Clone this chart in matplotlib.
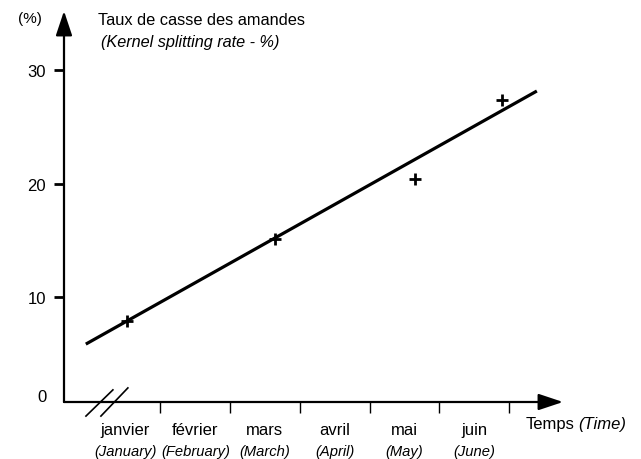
import matplotlib
matplotlib.use("Agg")
import matplotlib.pyplot as plt
from matplotlib.transforms import blended_transform_factory

plt.rcParams['font.family'] = ['Liberation Sans Narrow', 'Liberation Sans', 'DejaVu Sans']

# Months on the time axis (boundaries at integer positions, labels centred between them)
months_fr = ["janvier", "février", "mars", "avril", "mai", "juin"]
months_en = ["(January)", "(February)", "(March)", "(April)", "(May)", "(June)"]
month_centers = [0.5, 1.5, 2.5, 3.5, 4.5, 5.5]
month_bounds = [1, 2, 3, 4, 5, 6]

# Measured kernel splitting rate (%) at sampling dates (in months from 1 January)
sample_t = [0.52, 2.64, 4.65, 5.90]
sample_rate = [7.9, 15.1, 20.4, 27.4]

# Fitted trend line end points
trend_t = [-0.07, 6.40]
trend_rate = [5.85, 28.15]

y_ticks = [10, 20, 30]

fig = plt.figure(figsize=(6.41, 4.60), dpi=100)
ax = fig.add_axes([64 / 641, 57 / 460, 499 / 641, 391 / 460])
ax.set_xlim(-0.383, 6.775)
ax.set_ylim(0.75, 35.2)
for s in ax.spines.values():
    s.set_visible(False)

# Axes drawn as arrows
arrow = dict(arrowstyle='-|>,head_length=1.5,head_width=0.5', lw=1.6,
             color='black', shrinkA=0, shrinkB=0, mutation_scale=10)
ax.annotate('', xy=(0, 1), xytext=(0, 0), xycoords='axes fraction',
            textcoords='axes fraction', arrowprops=arrow, annotation_clip=False)
ax.annotate('', xy=(1, 0), xytext=(0, 0), xycoords='axes fraction',
            textcoords='axes fraction', arrowprops=arrow, annotation_clip=False)

# Ticks
ax.set_yticks(y_ticks)
ax.set_yticklabels([str(v) for v in y_ticks])
ax.tick_params(axis='y', direction='out', length=7, width=2, pad=6,
               labelsize=12)
ax.set_xticks(month_bounds)
ax.set_xticklabels([])
ax.tick_params(axis='x', direction='out', length=8, width=1)
ax.text(-0.044, 0.015, "0", transform=ax.transAxes, ha='center',
        va='center', fontsize=12)

# Axis break marks
for x0, x1, y0, y1 in [(0.044, 0.098, -0.036, 0.031),
                       (0.074, 0.128, -0.036, 0.036)]:
    ax.plot([x0, x1], [y0, y1], transform=ax.transAxes, color='black',
            lw=1.2, clip_on=False)

# Month labels
tr = blended_transform_factory(ax.transData, ax.transAxes)
for c, fr, en in zip(month_centers, months_fr, months_en):
    ax.text(c, -0.0716, fr, transform=tr, ha='center', va='center',
            fontsize=12)
    ax.text(c, -0.125, en, transform=tr, ha='center', va='center',
            fontsize=10.6, style='italic')

ax.text(0.926, -0.054, "Temps", transform=ax.transAxes, ha='left',
        va='center', fontsize=12)
ax.text(1.031, -0.054, "(Time)", transform=ax.transAxes, ha='left',
        va='center', fontsize=12, style='italic')

# Titles
ax.text(-0.068, 0.982, "(%)", transform=ax.transAxes, ha='center',
        va='center', fontsize=11)
ax.text(0.068, 0.977, "Taux de casse des amandes", transform=ax.transAxes,
        ha='left', va='center', fontsize=11.8)
ax.text(0.074, 0.921, "(Kernel splitting rate - %)", transform=ax.transAxes,
        ha='left', va='center', fontsize=11.7, style='italic')

# Data
ax.plot(trend_t, trend_rate, color='black', lw=2.3, solid_capstyle='butt')
ax.plot(sample_t, sample_rate, linestyle='none', marker='+', color='black',
        markersize=9, markeredgewidth=2)

fig.savefig("out.png", dpi=100)
